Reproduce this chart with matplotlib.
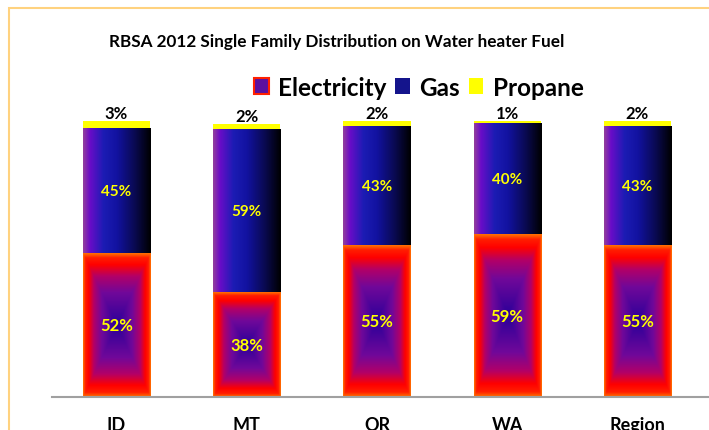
import numpy as np
import matplotlib
matplotlib.use("Agg")
import matplotlib.pyplot as plt
from matplotlib.colors import LinearSegmentedColormap
from matplotlib.patches import Patch, Rectangle

plt.rcParams['font.family'] = ['Lato', 'DejaVu Sans']

# data (percent)
regions = ["ID", "MT", "OR", "WA", "Region"]
electricity = [52, 38, 55, 59, 55]
gas = [45, 59, 43, 40, 43]
propane = [3, 2, 2, 1, 2]

# gradient colours like the excel fills
elec_cmap = LinearSegmentedColormap.from_list(
    "elec", [(0, "#2a0099"), (0.45, "#70089a"), (0.68, "#b20068"),
             (0.84, "#ff0000"), (0.94, "#ff1e00"), (1, "#ff7000")])
gas_cmap = LinearSegmentedColormap.from_list(
    "gas", [(0, "#94409c"), (0.1, "#6a0cc8"), (0.3, "#1c1cb4"),
            (0.5, "#1212a0"), (0.75, "#0a0a55"), (1, "#000000")])

fig = plt.figure(figsize=(7.09, 4.31), dpi=100)
ax = fig.add_axes([52/709, 33/431, 657/709, 276/431])

x = np.arange(len(regions))
e = np.array(electricity) / 100
g = np.array(gas) / 100
p = np.array(propane) / 100
w = 0.515

bars_e = ax.bar(x, e, w, color='none', zorder=1)
bars_g = ax.bar(x, g, w, bottom=e, color='none', zorder=1)
bars_p = ax.bar(x, p, w, bottom=e + g, color='#ffff00', zorder=2)

# "from center" rectangular gradient for electricity
yy, xx = np.mgrid[-1:1:300j, -1:1:150j]
radial = np.maximum(np.abs(xx), np.abs(yy))
for b in bars_e:
    x0, y0 = b.get_x(), b.get_y()
    ax.imshow(radial, cmap=elec_cmap, vmin=0, vmax=1, origin='lower',
              extent=[x0, x0 + b.get_width(), y0, y0 + b.get_height()],
              aspect='auto', interpolation='bilinear', zorder=2)

# left->right gradient for gas
lin = np.linspace(0, 1, 256)[None, :]
for b in bars_g:
    x0, y0 = b.get_x(), b.get_y()
    ax.imshow(lin, cmap=gas_cmap, vmin=0, vmax=1, origin='lower',
              extent=[x0, x0 + b.get_width(), y0, y0 + b.get_height()],
              aspect='auto', interpolation='bilinear', zorder=2)

# labels
for i in range(len(regions)):
    ax.text(x[i], e[i] / 2, f"{electricity[i]}%", ha='center', va='center',
            color='#ffff00', fontweight='bold', fontsize=12, zorder=5)
    ax.text(x[i], e[i] + g[i] / 2, f"{gas[i]}%", ha='center', va='center',
            color='#ffff00', fontweight='bold', fontsize=11, zorder=5)
    ax.annotate(f"{propane[i]}%", (x[i], e[i] + g[i] + p[i]), xytext=(0, 0),
                textcoords='offset points', ha='center', va='bottom',
                fontweight='bold', fontsize=12, annotation_clip=False)

ax.set_xlim(-0.495, 4.549)
ax.set_ylim(0, 1.0)
ax.set_xticks(x, regions, fontweight='bold', fontsize=13)
ax.set_yticks([])
ax.tick_params(axis='x', length=0, pad=14)
for s in ['top', 'left', 'right']:
    ax.spines[s].set_visible(False)
ax.spines['bottom'].set_color('#a0a0a0')
ax.spines['bottom'].set_linewidth(1.5)

handles = [Patch(facecolor='#5a10a0', edgecolor='#ff2000', lw=1.5),
           Patch(facecolor='#14148c'),
           Patch(facecolor='#ffff00')]
fig.legend(handles, ["Electricity", "Gas", "Propane"], ncol=3, frameon=False,
           loc='center', bbox_to_anchor=(419/709, 1 - 88/431),
           prop=dict(size=17.5, weight='bold'), handlelength=0.6,
           handleheight=0.6, handletextpad=0.4, columnspacing=0.35)

fig.text(337/709, 1 - 42/431,
         "RBSA 2012 Single Family Distribution on Water heater Fuel",
         ha='center', va='center', fontweight='bold', fontsize=12.3)

# chart area border (cut off by the picture on right/bottom)
fig.add_artist(Rectangle((9/709, -0.1), 1.2, 1 - 9/431 + 0.1,
                         transform=fig.transFigure, fill=False,
                         ec='#ffd27f', lw=1.5))

fig.savefig('out.png', dpi=100)
